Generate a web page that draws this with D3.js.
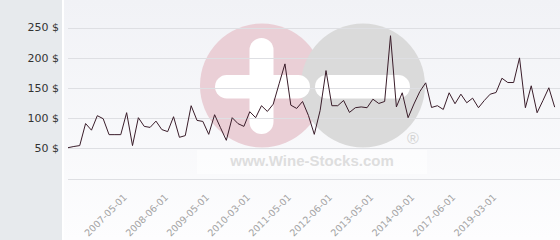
<!DOCTYPE html>
<html>
<head>
<meta charset="utf-8">
<script src="https://cdn.jsdelivr.net/npm/d3@7"></script>
<style>
  html, body { margin: 0; padding: 0; background: #fff; }
  svg { display: block; }
</style>
</head>
<body>
<div id="plot"></div>
<script>
// Price history (in $), one value per listing date
const values = [51, 53, 54.5, 91, 80, 104, 99, 72.6, 72.6, 72.6,
  109, 54.5, 100.7, 86.3, 84.6, 95, 81, 77.6, 102.3, 68.2,
  71, 120.5, 96.2, 94.5, 73.1, 105.6, 84.2, 63.2, 100.7, 90.8,
  86.3, 110.6, 100.7, 120.5, 111, 123.1, 156.8, 189.8, 121.4, 116,
  127.5, 104.4, 73.1, 112.7, 178.7, 120.5, 120.5, 129.2, 109.4, 117.2,
  118.5, 117.2, 131.3, 124.2, 127.5, 236.4, 118.5, 141.9, 100.7, 123.4,
  144, 158.4, 117.6, 120.5, 114.3, 141.9, 123.8, 139.6, 125.4, 133,
  117.2, 129.2, 139.6, 142.4, 166, 158.9, 158.9, 199.7, 117.2, 153.5,
  108.9, 129.2, 150.2, 118.1];

// category labels shown on the x axis and the point they belong to
const tickLabels = ['2007-05-01', '2008-06-01', '2009-05-01', '2010-03-01', '2011-05-01',
  '2012-06-01', '2013-05-01', '2014-09-01', '2017-06-01', '2019-03-01'];
const tickIndex = [10, 17, 24, 31, 38, 45, 52, 59, 66, 73];

const yTicks = [50, 100, 150, 200, 250];
const gridTicks = [0, 50, 100, 150, 200, 250];

const width = 560, height = 240;
const panelW = 62;
const plot = { left: 68, right: 554.7, top: 27.5, bottom: 178.5 };

const svg = d3.select('#plot')
  .append('svg')
  .attr('width', width)
  .attr('height', height);

const defs = svg.append('defs');
const grad = defs.append('linearGradient')
  .attr('id', 'bg')
  .attr('x1', 0).attr('y1', 0).attr('x2', 0).attr('y2', 1);
grad.append('stop').attr('offset', '0%').attr('stop-color', '#f1f2f6');
grad.append('stop').attr('offset', '100%').attr('stop-color', '#fdfdfe');

// backgrounds
svg.append('rect')
  .attr('x', 0).attr('y', 0)
  .attr('width', width).attr('height', height)
  .attr('fill', 'url(#bg)');

svg.append('rect')
  .attr('x', 0).attr('y', 0)
  .attr('width', panelW).attr('height', height)
  .attr('fill', '#e7eaed');

svg.append('rect')
  .attr('x', panelW).attr('y', 0)
  .attr('width', 2).attr('height', height)
  .attr('fill', '#ffffff');

// Scales
const x = d3.scalePoint()
  .domain(d3.range(values.length))
  .range([plot.left, plot.right]);

const y = d3.scaleLinear()
  .domain([0, 250])
  .range([plot.bottom, plot.top]);

// watermark
const wm = svg.append('g');
wm.append('circle').attr('cx', 262).attr('cy', 85.5).attr('r', 62).attr('fill', '#eacfd6');
wm.append('circle').attr('cx', 363).attr('cy', 85.5).attr('r', 62).attr('fill', '#dadada');
wm.append('rect').attr('x', 249.5).attr('y', 38).attr('width', 24).attr('height', 96)
  .attr('rx', 12).attr('fill', '#ffffff');
wm.append('rect').attr('x', 215).attr('y', 75).attr('width', 95).attr('height', 23.5)
  .attr('rx', 11.75).attr('fill', '#ffffff');
wm.append('rect').attr('x', 315).attr('y', 75).attr('width', 95).attr('height', 23.5)
  .attr('rx', 11.75).attr('fill', '#ffffff');
wm.append('rect').attr('x', 197).attr('y', 150).attr('width', 230).attr('height', 24)
  .attr('fill', '#ffffff').attr('opacity', 0.55);
wm.append('text')
  .attr('x', 413).attr('y', 144)
  .attr('text-anchor', 'middle')
  .style('font-family', 'Liberation Sans, Arial, sans-serif')
  .style('font-size', '16px')
  .attr('fill', '#d4d4d4')
  .text('®');
wm.append('text')
  .attr('x', 312).attr('y', 166)
  .attr('text-anchor', 'middle')
  .style('font-family', 'Liberation Sans, Arial, sans-serif')
  .style('font-size', '15px')
  .style('font-weight', 'bold')
  .attr('fill', '#dedede')
  .text('www.Wine-Stocks.com');

// grid lines
svg.append('g')
  .selectAll('line')
  .data(gridTicks)
  .join('line')
  .attr('x1', plot.left)
  .attr('x2', width)
  .attr('y1', d => Math.round(y(d)) + 0.5)
  .attr('y2', d => Math.round(y(d)) + 0.5)
  .attr('stroke', '#dedfe3')
  .attr('stroke-width', 1);

// y labels
svg.append('g')
  .selectAll('text')
  .data(yTicks)
  .join('text')
  .attr('x', 59)
  .attr('y', d => y(d))
  .attr('dy', '0.35em')
  .attr('text-anchor', 'end')
  .style('font-family', 'DejaVu Sans, sans-serif')
  .style('font-size', '11px')
  .attr('fill', '#333')
  .text(d => d + ' $');

// x labels
svg.append('g')
  .selectAll('text')
  .data(tickLabels)
  .join('text')
  .attr('transform', (d, i) => `translate(${x(tickIndex[i]) + 1},198) rotate(-45)`)
  .attr('text-anchor', 'end')
  .style('font-family', 'DejaVu Sans, sans-serif')
  .style('font-size', '9.5px')
  .attr('fill', '#a3a3a3')
  .text(d => d);

// price line
const line = d3.line()
  .x((d, i) => x(i))
  .y(d => y(d));

svg.append('path')
  .datum(values)
  .attr('d', line)
  .attr('fill', 'none')
  .attr('stroke', '#3a1d2a')
  .attr('stroke-width', 1);
</script>
</body>
</html>
